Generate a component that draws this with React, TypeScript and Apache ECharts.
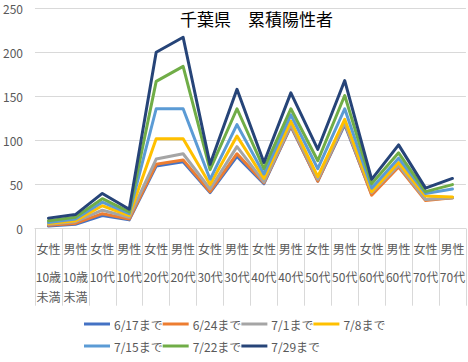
import React, { useEffect, useRef } from "react";
import * as echarts from "echarts";

const categories = [
  "女性\n10歳\n未満", "男性\n10歳\n未満", "女性\n10代", "男性\n10代",
  "女性\n20代", "男性\n20代", "女性\n30代", "男性\n30代",
  "女性\n40代", "男性\n40代", "女性\n50代", "男性\n50代",
  "女性\n60代", "男性\n60代", "女性\n70代", "男性\n70代",
];

const seriesNames = ["6/17まで", "6/24まで", "7/1まで", "7/8まで", "7/15まで", "7/22まで", "7/29まで"];
const seriesColors = ["#4472C4", "#ED7D31", "#A5A5A5", "#FFC000", "#5B9BD5", "#70AD47", "#264478"];

const s0617 = [3, 5, 15, 10, 71, 76, 41, 82, 51, 116, 54, 118, 39, 71, 33, 35];
const s0624 = [4, 6, 17, 11, 73, 78, 42, 85, 52, 117, 54, 120, 38, 70, 32, 35];
const s0701 = [5, 8, 21, 13, 79, 85, 45, 93, 53, 118, 56, 120, 41, 72, 33, 35];
const s0708 = [6, 9, 26, 15, 102, 102, 50, 105, 57, 122, 59, 124, 42, 75, 37, 36];
const s0715 = [7, 11, 30, 17, 136, 136, 56, 118, 62, 129, 68, 136, 46, 80, 40, 45];
const s0722 = [9, 13, 34, 19, 167, 184, 67, 136, 68, 136, 77, 151, 51, 86, 42, 50];
const s0729 = [12, 16, 40, 22, 200, 217, 73, 158, 75, 154, 90, 168, 56, 95, 46, 57];

const seriesValues = [s0617, s0624, s0701, s0708, s0715, s0722, s0729];

const yTicks = { min: 0, max: 250, interval: 50 };

const FONT = "'Noto Sans CJK JP', 'Noto Sans', sans-serif";

export default function App() {
  const ref = useRef<HTMLDivElement>(null);

  useEffect(() => {
    if (!ref.current) return;
    const chart = echarts.init(ref.current, undefined, { renderer: "svg" });

    const legendCommon = {
      left: 84,
      orient: "horizontal" as const,
      itemWidth: 26,
      itemHeight: 3,
      itemGap: 0,
      padding: 0,
      icon: "rect",
      textStyle: {
        color: "#595959",
        fontSize: 12,
        fontFamily: FONT,
        width: 48,
        padding: [0, 0, 0, -1],
      },
    };

    chart.setOption({
      animation: false,
      textStyle: { fontFamily: FONT },
      title: {
        text: "千葉県　累積陽性者",
        left: 180,
        top: 10,
        padding: 0,
        textStyle: { color: "#000000", fontSize: 17, fontWeight: "normal", fontFamily: FONT },
      },
      legend: [
        { ...legendCommon, top: 318, data: seriesNames.slice(0, 4) },
        { ...legendCommon, top: 340, data: seriesNames.slice(4) },
      ],
      grid: { left: 33, right: 0, top: 8.2, bottom: 133.3, containLabel: false },
      xAxis: {
        type: "category",
        data: categories,
        boundaryGap: true,
        axisLine: { show: true, lineStyle: { color: "#D9D9D9", width: 1 } },
        axisTick: { show: true, alignWithLabel: false, length: 77, lineStyle: { color: "#D9D9D9", width: 1 } },
        axisLabel: {
          interval: 0,
          margin: 2,
          color: "#595959",
          fontSize: 12,
          fontFamily: FONT,
          formatter: (v: string) => {
            const parts = v.split("\n");
            const first = `{a|${parts[0]}}`;
            const rest = parts.slice(1).map((p) => `{b|${p}}`).join("\n");
            return first + "\n" + rest;
          },
          rich: {
            a: { lineHeight: 36, fontSize: 12, color: "#595959", fontFamily: FONT },
            b: { lineHeight: 20, fontSize: 12, color: "#595959", fontFamily: FONT },
          },
        },
      },
      yAxis: {
        type: "value",
        min: yTicks.min,
        max: yTicks.max,
        interval: yTicks.interval,
        axisLine: { show: false },
        axisTick: { show: false },
        axisLabel: { color: "#595959", fontSize: 12, margin: 12, fontFamily: FONT },
        splitLine: { lineStyle: { color: "#D9D9D9", width: 1 } },
      },
      series: seriesNames.map((name, i) => ({
        name,
        type: "line",
        data: seriesValues[i],
        symbol: "none",
        showSymbol: false,
        color: seriesColors[i],
        lineStyle: { width: 3, color: seriesColors[i], join: "round", cap: "round" },
        z: 2 + i,
      })),
    });

    return () => chart.dispose();
  }, []);

  return (
    <div
      ref={ref}
      style={{ position: "fixed", left: 0, top: 0, width: 468, height: 362, background: "#fff" }}
    />
  );
}
